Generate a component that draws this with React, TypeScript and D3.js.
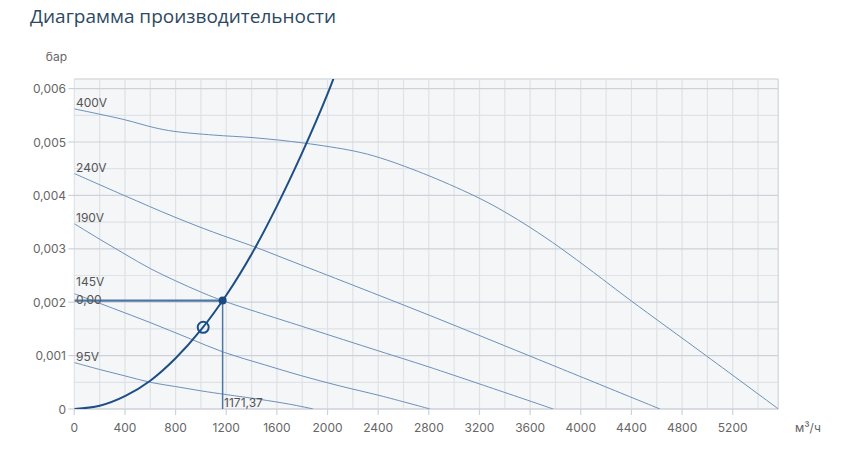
import React from 'react';
import * as d3 from 'd3';

const title = 'Диаграмма производительности';
const yUnit = 'бар';
const xUnit = 'м³/ч';

const flowTicks = [0, 400, 800, 1200, 1600, 2000, 2400, 2800, 3200, 3600, 4000, 4400, 4800, 5200];
const pressureTicks = [0, 0.001, 0.002, 0.003, 0.004, 0.005, 0.006];

const fanNames = ['400V', '240V', '190V', '145V', '95V'];
const fan400: [number, number][] = [[0, 0.00562], [393, 0.00542], [630, 0.00527], [787, 0.0052], [1100, 0.00513], [1420, 0.00508], [1815, 0.00498], [2210, 0.00483], [2420, 0.0047], [2809, 0.00436], [3205, 0.00394], [3400, 0.00369], [3600, 0.0034], [3837, 0.00302], [4100, 0.00256], [4390, 0.00204], [4995, 0.00099], [5561, 0]];
const fan240: [number, number][] = [[0, 0.00441], [393, 0.004], [787, 0.0036], [1100, 0.00331], [1420, 0.00304], [1680, 0.0028], [2200, 0.00232], [2810, 0.00175], [3600, 0.00099], [4626, 0]];
const fan190: [number, number][] = [[0, 0.00347], [200, 0.00318], [400, 0.0029], [600, 0.00263], [800, 0.0024], [1000, 0.00219], [1171, 0.00203], [1835, 0.00152], [2400, 0.00109], [2810, 0.00078], [3783, 0]];
const fan145: [number, number][] = [[0, 0.00216], [300, 0.00189], [598, 0.00162], [900, 0.00133], [1184, 0.00106], [1500, 0.00083], [1783, 0.00063], [2100, 0.00043], [2415, 0.00025], [2810, 0]];
const fan95: [number, number][] = [[0, 0.00087], [200, 0.00074], [400, 0.00062], [600, 0.0005], [800, 0.00042], [1000, 0.00034], [1200, 0.00027], [1466, 0.00018], [1700, 0.00009], [1888, 0]];
const fanCurves = [fan400, fan240, fan190, fan145, fan95];

const systemCurve: [number, number][] = [[0, 0], [200, 0.00006], [400, 0.00024], [600, 0.00053], [800, 0.00095], [1000, 0.00148], [1200, 0.00213], [1400, 0.0029], [1600, 0.0038], [1800, 0.0048], [2000, 0.0059], [2100, 0.00653]];

const opFlow = 1171.37;
const opPressure = 0.00203;
const nominalFlow = 1018;
const nominalPressure = 0.00153;

const W = 844;
const H = 450;
const left = 74.3;
const right = 778.3;
const top = 79;
const bottom = 409;

export default function App() {
  const x = d3.scaleLinear().domain([0, 5560]).range([left, right]);
  const y = d3.scaleLinear().domain([0, 0.00618]).range([bottom, top]);
  const line = d3
    .line<[number, number]>()
    .x((d) => x(d[0]))
    .y((d) => y(d[1]))
    .curve(d3.curveCatmullRom.alpha(0.5));

  const vGrid = d3.range(0, 5560, 200);
  const hGrid = d3.range(0, 0.00601, 0.0005);
  const fmt = (v: number) => (v === 0 ? '0' : v.toFixed(3).replace('.', ','));
  const opLabel = opPressure.toFixed(2).replace('.', ',');
  const opLabelY = y(opPressure) + 3;

  const tickFont = 'Inter, "Noto Sans", sans-serif';
  return (
    <svg width={W} height={H} style={{ position: 'absolute', left: 0, top: 0 }} fontFamily={tickFont}>
      <defs>
        <clipPath id="plotClip">
          <rect x={left} y={top} width={right - left} height={bottom - top} />
        </clipPath>
      </defs>
      <text x={30} y={23} fontFamily='"Open Sans", sans-serif' fontSize={19} fontWeight={500} fill="#2d4962">
        {title}
      </text>
      <rect x={left} y={top} width={right - left} height={bottom - top} fill="#f4f6f8" />
      {vGrid.map((v) => (
        <line key={'v' + v} x1={x(v)} x2={x(v)} y1={top} y2={bottom} stroke="#dfe2e6" strokeWidth={1.2} />
      ))}
      {hGrid.map((v, i) => (
        <line
          key={'h' + i}
          x1={left}
          x2={right}
          y1={y(v)}
          y2={y(v)}
          stroke={i % 2 === 0 ? '#cdd2da' : '#dfe2e6'}
          strokeWidth={1.2}
        />
      ))}
      <line x1={left} x2={right} y1={top} y2={top} stroke="#d8dce1" strokeWidth={1.5} />
      <line x1={right} x2={right} y1={top} y2={bottom} stroke="#d8dce1" strokeWidth={1.5} />
      <line x1={left} x2={right} y1={bottom} y2={bottom} stroke="#cdd2da" strokeWidth={1.2} />

      {pressureTicks.map((t) => (
        <g key={'yt' + t}>
          <line x1={left - 6} x2={left} y1={y(t)} y2={y(t)} stroke="#cdd2da" strokeWidth={1.2} />
          <text x={66} y={y(t) + 4.5} textAnchor="end" fontSize={12} fill="#666">
            {fmt(t)}
          </text>
        </g>
      ))}
      {flowTicks.map((t) => (
        <g key={'xt' + t}>
          <line x1={x(t)} x2={x(t)} y1={bottom} y2={bottom + 6} stroke="#cdd2da" strokeWidth={1.2} />
          <text x={x(t)} y={432} textAnchor="middle" fontSize={12} fill="#666">
            {t}
          </text>
        </g>
      ))}
      <text x={67} y={61} textAnchor="end" fontSize={12} fill="#666">
        {yUnit}
      </text>
      <text x={795} y={432} fontSize={12} fill="#666">
        {xUnit}
      </text>

      <g clipPath="url(#plotClip)">
        {fanCurves.map((c, i) => (
          <path key={'f' + i} d={line(c) || ''} fill="none" stroke="#6d90ba" strokeWidth={1} />
        ))}
        <line x1={left} x2={x(opFlow)} y1={y(opPressure)} y2={y(opPressure)} stroke="#4f77a3" strokeWidth={2.2} />
        <line x1={x(opFlow)} x2={x(opFlow)} y1={y(opPressure)} y2={bottom} stroke="#4f77a3" strokeWidth={1.5} />
        <path d={line(systemCurve) || ''} fill="none" stroke="#1d4f86" strokeWidth={2} />
        <circle cx={x(nominalFlow)} cy={y(nominalPressure)} r={5.5} fill="none" stroke="#1d4f86" strokeWidth={2} />
        <circle cx={x(opFlow)} cy={y(opPressure)} r={4} fill="#1a4a80" />
      </g>

      {fanCurves.map((c, i) => {
        let ly = y(c[0][1]) - 2;
        if (Math.abs(ly - opLabelY) < 12) ly = opLabelY - 17.5;
        return (
          <text key={'fl' + i} x={76} y={ly} fontSize={12} fill="#555">
            {fanNames[i]}
          </text>
        );
      })}
      <text x={76} y={opLabelY} fontSize={12} fill="#555">
        {opLabel}
      </text>
      <text x={x(opFlow) + 1.5} y={407} fontSize={12} fill="#555">
        {d3.format('.2f')(opFlow).replace('.', ',')}
      </text>
    </svg>
  );
}
